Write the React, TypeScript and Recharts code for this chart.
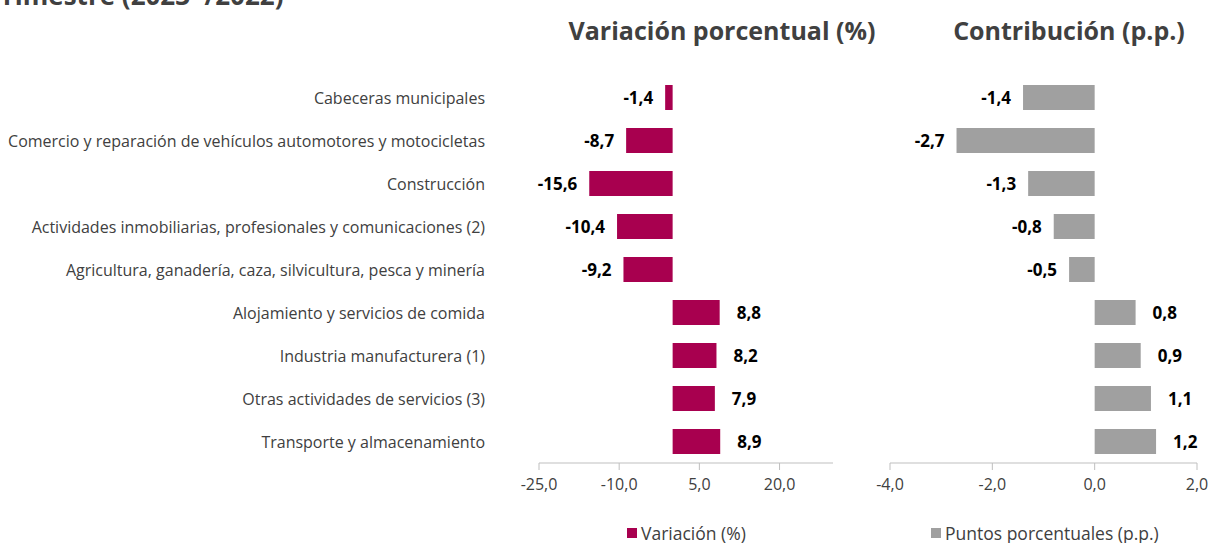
import React from "react";
import { BarChart, Bar, XAxis, YAxis, LabelList } from "recharts";

const categories = [
  "Cabeceras municipales",
  "Comercio y reparación de vehículos automotores y motocicletas",
  "Construcción",
  "Actividades inmobiliarias, profesionales y comunicaciones (2)",
  "Agricultura, ganadería, caza, silvicultura, pesca y minería",
  "Alojamiento y servicios de comida",
  "Industria manufacturera (1)",
  "Otras actividades de servicios (3)",
  "Transporte y almacenamiento",
];
const variacion = [-1.4, -8.7, -15.6, -10.4, -9.2, 8.8, 8.2, 7.9, 8.9];
const contribucion = [-1.4, -2.7, -1.3, -0.8, -0.5, 0.8, 0.9, 1.1, 1.2];
const varTicks = [-25, -10, 5, 20];
const contTicks = [-4, -2, 0, 2];

const data = categories.map((c, i) => ({ cat: c, v: variacion[i], p: contribucion[i] }));

const FONT = "'Open Sans', 'Noto Sans', sans-serif";
const MAGENTA = "#A8004F";
const GREY = "#A0A0A0";
const AXIS = "#BFBFBF";
const TEXT = "#404040";

const fmt = (n: number) => n.toFixed(1).replace(".", ",");

const ValueLabel = (props: any) => {
  const { x, y, width, height, value } = props;
  const neg = value < 0;
  const left = Math.min(x, x + width);
  const right = Math.max(x, x + width);
  const tx = neg ? left - 12 : right + 17;
  return (
    <text
      x={tx}
      y={y + height / 2}
      textAnchor={neg ? "end" : "start"}
      dominantBaseline="central"
      fontFamily={FONT}
      fontWeight={700}
      fontSize={17}
      fill="#000"
    >
      {fmt(value)}
    </text>
  );
};

const CatTick = (props: any) => {
  const { x, y, payload } = props;
  return (
    <text x={x - 46} y={y} textAnchor="end" dominantBaseline="central" fontFamily={FONT} fontSize={16} fill={TEXT}>
      {payload.value}
    </text>
  );
};

const NumTick = (props: any) => {
  const { x, y, payload } = props;
  return (
    <text x={x} y={y} textAnchor="middle" dominantBaseline="central" fontFamily={FONT} fontSize={16} fill={TEXT}>
      {fmt(payload.value)}
    </text>
  );
};

export default function App() {
  return (
    <div style={{ position: "absolute", left: 0, top: 0, width: 1211, height: 543, background: "#fff", overflow: "hidden", fontFamily: FONT }}>
      <div style={{ position: "absolute", left: -12, top: -20, fontSize: 26, fontWeight: 700, color: TEXT, whiteSpace: "nowrap", lineHeight: "30px", height: 30 }}>
        Trimestre (2023 <span style={{ fontSize: 12, position: "relative", top: -14, lineHeight: "0px" }}>p</span>/2022)
      </div>
      <div style={{ position: "absolute", left: 722, top: 14, transform: "translateX(-50%)", fontSize: 25, fontWeight: 700, color: TEXT, whiteSpace: "nowrap", lineHeight: "32px" }}>
        Variación porcentual (%)
      </div>
      <div style={{ position: "absolute", left: 1069, top: 14, transform: "translateX(-50%)", fontSize: 25, fontWeight: 700, color: TEXT, whiteSpace: "nowrap", lineHeight: "32px" }}>
        Contribución (p.p.)
      </div>

      <div style={{ position: "absolute", left: 0, top: 0 }}>
        <BarChart
          width={850}
          height={543}
          data={data}
          layout="vertical"
          margin={{ top: 76, bottom: 0, left: 0, right: 17 }}
          barCategoryGap={9}
        >
          <XAxis
            type="number"
            domain={[-25, 30]}
            ticks={varTicks}
            allowDataOverflow
            stroke={AXIS}
            tickSize={7}
            tickMargin={14}
            tick={<NumTick />}
            height={80}
          />
          <YAxis type="category" dataKey="cat" width={539} axisLine={false} tickLine={false} tick={<CatTick />} interval={0} />
          <Bar dataKey="v" fill={MAGENTA} isAnimationActive={false}>
            <LabelList dataKey="v" content={<ValueLabel />} />
          </Bar>
        </BarChart>
      </div>

      <div style={{ position: "absolute", left: 850, top: 0 }}>
        <BarChart
          width={361}
          height={543}
          data={data}
          layout="vertical"
          margin={{ top: 76, bottom: 0, left: 40, right: 14 }}
          barCategoryGap={9}
        >
          <XAxis
            type="number"
            domain={[-4, 2]}
            ticks={contTicks}
            stroke={AXIS}
            tickSize={7}
            tickMargin={14}
            tick={<NumTick />}
            height={80}
          />
          <YAxis type="category" dataKey="cat" hide />
          <Bar dataKey="p" fill={GREY} isAnimationActive={false}>
            <LabelList dataKey="p" content={<ValueLabel />} />
          </Bar>
        </BarChart>
      </div>

      <div style={{ position: "absolute", left: 627, top: 521, display: "flex", alignItems: "center", fontSize: 17.5, color: TEXT, whiteSpace: "nowrap" }}>
        <span style={{ display: "inline-block", width: 10, height: 10, background: MAGENTA, marginRight: 4 }} />
        Variación (%)
      </div>
      <div style={{ position: "absolute", left: 931, top: 521, display: "flex", alignItems: "center", fontSize: 17.5, color: TEXT, whiteSpace: "nowrap" }}>
        <span style={{ display: "inline-block", width: 10, height: 10, background: GREY, marginRight: 4 }} />
        Puntos porcentuales (p.p.)
      </div>
    </div>
  );
}
